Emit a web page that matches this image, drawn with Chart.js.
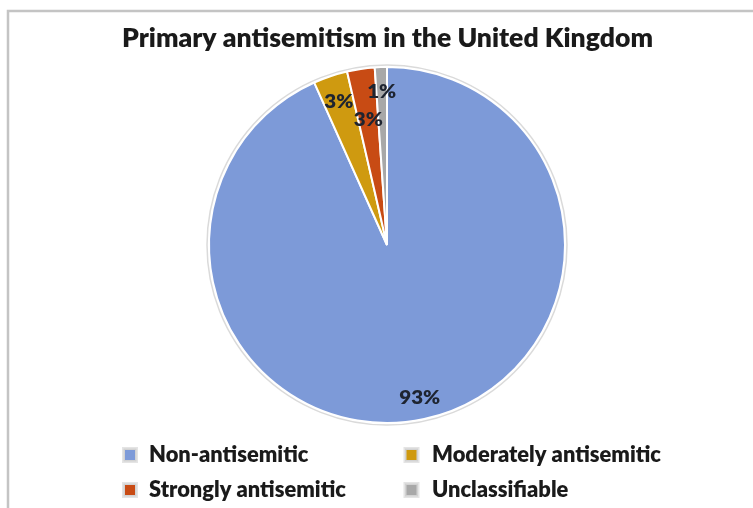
<!DOCTYPE html>
<html><head><meta charset="utf-8">
<script src="https://cdn.jsdelivr.net/npm/chart.js@4.4.1/dist/chart.umd.min.js"></script>
<style>html,body{margin:0;padding:0;background:#fff;}#wrap{position:relative;width:753px;height:508px;}canvas{display:block}</style>
</head><body><div id="wrap"><canvas id="c" width="753" height="508"></canvas></div>
<script>
const titleText = 'Primary antisemitism in the United Kingdom';
const categories = ['Non-antisemitic', 'Moderately antisemitic', 'Strongly antisemitic', 'Unclassifiable'];
const shares = [93.3, 3.1, 2.5, 1.1];
const shareLabels = ['93%', '3%', '3%', '1%'];
const sliceColors = ['#7d9ad8', '#cf9a10', '#c84b14', '#a8a8a8'];
const labelRadius = [0.88, 0.85, 0.71, 0.86];

const FAMILY = 'Lato, "Open Sans", "DejaVu Sans", sans-serif';
const WEIGHT = '800';

// draw text at a given font size, squeezed horizontally to a target width
function squeezeFactor(ctx, text, size, target) {
  ctx.font = WEIGHT + ' ' + size + 'px ' + FAMILY;
  return target / ctx.measureText(text).width;
}
function drawSqueezed(ctx, text, x, y, size, sx, align) {
  ctx.save();
  ctx.font = WEIGHT + ' ' + size + 'px ' + FAMILY;
  ctx.textAlign = align;
  ctx.translate(x, y);
  ctx.scale(sx, 1);
  ctx.fillText(text, 0, 0);
  ctx.restore();
}

const framePlugin = {
  id: 'frame',
  beforeDraw(chart) {
    const ctx = chart.ctx;
    ctx.save();
    ctx.fillStyle = '#fff';
    ctx.fillRect(0, 0, chart.width, chart.height);
    ctx.strokeStyle = '#c4c4c4';
    ctx.lineWidth = 2.5;
    ctx.beginPath();
    ctx.moveTo(8, chart.height);
    ctx.lineTo(8, 11);
    ctx.lineTo(chart.width, 11);
    ctx.stroke();
    ctx.restore();
  }
};

const extrasPlugin = {
  id: 'extras',
  afterDatasetsDraw(chart) {
    const ctx = chart.ctx;
    const arcs = chart.getDatasetMeta(0).data;
    ctx.save();
    // outer ring
    const a0 = arcs[0];
    ctx.strokeStyle = '#dadada';
    ctx.lineWidth = 1.5;
    ctx.beginPath();
    ctx.arc(a0.x, a0.y, a0.outerRadius + 2, 0, Math.PI * 2);
    ctx.stroke();
    // data labels
    ctx.fillStyle = '#1e2430';
    ctx.textBaseline = 'middle';
    const dsx = squeezeFactor(ctx, shareLabels[0], 19, 41);
    arcs.forEach((arc, i) => {
      const mid = (arc.startAngle + arc.endAngle) / 2;
      const r = arc.outerRadius * labelRadius[i];
      drawSqueezed(ctx, shareLabels[i], arc.x + Math.cos(mid) * r, arc.y + Math.sin(mid) * r, 19, dsx, 'center');
    });
    // title
    ctx.fillStyle = '#1a1a1a';
    ctx.textBaseline = 'alphabetic';
    const tsx = squeezeFactor(ctx, titleText, 25.5, 531);
    drawSqueezed(ctx, titleText, 387.5, 47, 25.5, tsx, 'center');
    // legend
    const lsx = squeezeFactor(ctx, categories[1], 22.5, 229);
    const boxX = [130, 411.5];
    const textX = [149, 432];
    const rowY = [455, 490];
    categories.forEach((lab, i) => {
      const col = i % 2, row = Math.floor(i / 2);
      const cx = boxX[col], cy = rowY[row];
      ctx.fillStyle = '#e4e4e4';
      ctx.fillRect(cx - 8, cy - 8, 16, 16);
      ctx.fillStyle = '#d2d2d2';
      ctx.fillRect(cx - 6.5, cy - 6.5, 13, 13);
      ctx.fillStyle = sliceColors[i];
      ctx.fillRect(cx - 5, cy - 5, 10, 10);
      ctx.fillStyle = '#1a1a1a';
      drawSqueezed(ctx, lab, textX[col], cy + 7, 22.5, lsx, 'left');
    });
    ctx.restore();
  }
};

new Chart(document.getElementById('c'), {
  type: 'pie',
  data: {
    labels: categories,
    datasets: [{
      data: shares,
      backgroundColor: sliceColors,
      borderColor: '#ffffff',
      borderWidth: 2
    }]
  },
  options: {
    responsive: false,
    animation: false,
    devicePixelRatio: 1,
    layout: { padding: { top: 66, bottom: 84, left: 21, right: 0 } },
    plugins: {
      legend: { display: false },
      title: { display: false },
      tooltip: { enabled: false }
    }
  },
  plugins: [framePlugin, extrasPlugin]
});
</script>
</body></html>
